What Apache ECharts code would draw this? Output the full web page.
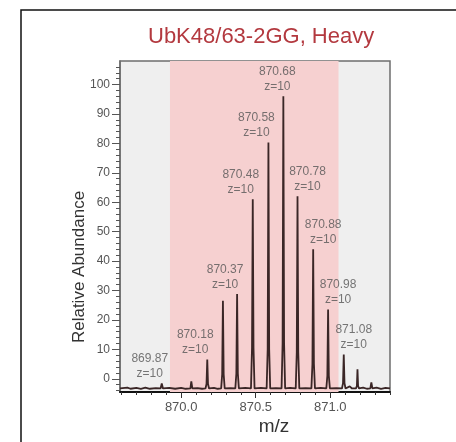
<!DOCTYPE html>
<html>
<head>
<meta charset="utf-8">
<script src="https://cdn.jsdelivr.net/npm/echarts@6/dist/echarts.min.js"></script>
<style>
  html, body { margin: 0; padding: 0; background: #ffffff; overflow: hidden; }
  #chart { width: 456px; height: 442px; }
</style>
</head>
<body>
<div id="chart"></div>
<script>
// ---- data ----
const titleText = 'UbK48/63-2GG, Heavy';
const xName = 'm/z';
const yName = 'Relative Abundance';

// profile spectrum: m/z and relative abundance
const mzValues = [
  869.59, 869.64, 869.66, 869.70, 869.73, 869.76, 869.79, 869.83,
  869.862, 869.87, 869.878,
  869.92, 869.96, 870.00, 870.03,
  870.062, 870.068, 870.075,
  870.11, 870.14,
  870.163, 870.170, 870.175, 870.180, 870.187,
  870.22, 870.245,
  870.268, 870.275, 870.280, 870.285, 870.292,
  870.33,
  870.363, 870.370, 870.375, 870.380, 870.387,
  870.43,
  870.468, 870.475, 870.480, 870.485, 870.492,
  870.535,
  870.573, 870.580, 870.585, 870.590, 870.597,
  870.635,
  870.673, 870.680, 870.685, 870.690, 870.697,
  870.73,
  870.768, 870.775, 870.780, 870.785, 870.792,
  870.835,
  870.873, 870.880, 870.885, 870.890, 870.897,
  870.935,
  870.973, 870.980, 870.985, 870.990, 870.997,
  871.04,
  871.078, 871.085, 871.090, 871.095, 871.102,
  871.13, 871.145,
  871.172, 871.178, 871.182, 871.186, 871.192,
  871.22, 871.245,
  871.268, 871.275, 871.282,
  871.31, 871.34, 871.37, 871.40
];
const intensityValues = [
  -3.3, -3.0, -3.4, -3.1, -3.4, -3.0, -3.4, -3.2,
  -3.3, -1.6, -3.3,
  -3.1, -3.4, -3.1, -3.4,
  -3.3, -0.9, -3.3,
  -3.2, -3.4,
  -3.3, -1.8, 6.5, -1.8, -3.3,
  -3.1, -3.4,
  -3.3, 1.5, 26.5, 1.5, -3.3,
  -3.2,
  -3.3, 1.8, 28.8, 1.8, -3.3,
  -3.1,
  -3.3, 10.5, 61, 10.5, -3.3,
  -3.1,
  -3.3, 10, 80.3, 10, -3.3,
  -3.2,
  -3.3, 12, 96, 12, -3.3,
  -3.1,
  -3.3, 9, 62, 9, -3.3,
  -3.2,
  -3.3, 5, 44, 5, -3.3,
  -3.1,
  -3.3, 1, 23.5, 1, -3.3,
  -3.2,
  -3.3, -1.5, 8.2, -1.5, -3.3,
  -2.6, -3.3,
  -3.3, -2.4, 3.2, -2.4, -3.3,
  -3.0, -3.4,
  -3.3, -1.2, -3.3,
  -3.0, -3.4, -3.1, -3.3
];

// peak annotations
const annotMz   = [869.87, 870.175, 870.375, 870.48, 870.585, 870.685, 870.78, 870.885, 870.985, 871.09];
const annotTop  = [-1.6, 6.5, 28.8, 61, 80.3, 96, 62, 44, 23.5, 8.2];
const annotText = ['869.87', '870.18', '870.37', '870.48', '870.58', '870.68', '870.78', '870.88', '870.98', '871.08'];
const annotCharge = ['z=10', 'z=10', 'z=10', 'z=10', 'z=10', 'z=10', 'z=10', 'z=10', 'z=10', 'z=10'];

// highlighted isolation window
const windowStart = 869.925;
const windowEnd = 871.055;

// axes
const xMin = 869.59, xMax = 871.40;
const yMin = -4.5, yMax = 108;
const xMajorTicks = [870.0, 870.5, 871.0];
const xMinorTicks = [869.6, 869.7, 869.8, 869.9, 870.0, 870.1, 870.2, 870.3, 870.4, 870.5,
                     870.6, 870.7, 870.8, 870.9, 871.0, 871.1, 871.2, 871.3, 871.4];
const yMajorTicks = [0, 10, 20, 30, 40, 50, 60, 70, 80, 90, 100];
const yMinorTicks = [-4, -2, 0, 2, 4, 6, 8, 10, 12, 14, 16, 18, 20, 22, 24, 26, 28, 30, 32, 34, 36, 38,
                     40, 42, 44, 46, 48, 50, 52, 54, 56, 58, 60, 62, 64, 66, 68, 70, 72, 74, 76, 78,
                     80, 82, 84, 86, 88, 90, 92, 94, 96, 98, 100, 102, 104, 106];

// ---- chart ----
const FONT = 'Liberation Sans, Arial, sans-serif';
const chart = echarts.init(document.getElementById('chart'), null, { renderer: 'canvas' });

const spectrum = mzValues.map((m, i) => [m, intensityValues[i]]);
const annotations = annotMz.map((m, i) => {
  let dx = 10;
  if (m < 870.63) dx = -12;
  else if (m < 870.73) dx = -6;
  return {
    name: annotText[i] + '\n' + annotCharge[i],
    value: [m, annotTop[i]],
    label: { offset: [dx, 0] }
  };
});

const option = {
  animation: false,
  backgroundColor: '#ffffff',
  title: {
    text: titleText,
    left: 148,
    top: 26,
    padding: 0,
    textStyle: { color: '#b3393f', fontSize: 22, fontWeight: 'normal', fontFamily: FONT }
  },
  grid: {
    left: 120, top: 61, width: 270, height: 331,
    show: true,
    backgroundColor: '#efefef',
    borderColor: '#6e6e6e',
    borderWidth: 1.5,
    containLabel: false
  },
  xAxis: [
    {
      type: 'value', min: xMin, max: xMax, position: 'bottom',
      axisLine: { show: true, onZero: false, lineStyle: { color: '#111', width: 2 } },
      axisTick: { show: true, customValues: xMajorTicks, length: 6, inside: false,
                  lineStyle: { color: '#333', width: 1 } },
      axisLabel: { show: true, customValues: xMajorTicks, formatter: v => Number(v).toFixed(1),
                   color: '#555', fontSize: 13, fontFamily: FONT, margin: 9 },
      splitLine: { show: false }
    },
    {
      type: 'value', min: xMin, max: xMax, position: 'bottom', offset: 0,
      axisLine: { show: false, onZero: false },
      axisTick: { show: true, customValues: xMinorTicks, length: 3, inside: false,
                  lineStyle: { color: '#333', width: 1 } },
      axisLabel: { show: false },
      splitLine: { show: false }
    }
  ],
  yAxis: [
    {
      type: 'value', min: yMin, max: yMax, position: 'left',
      axisLine: { show: true, onZero: false, lineStyle: { color: '#6e6e6e', width: 1.5 } },
      axisTick: { show: true, customValues: yMajorTicks, length: 8, inside: false,
                  lineStyle: { color: '#555', width: 1 } },
      axisLabel: { show: true, customValues: yMajorTicks, color: '#555', fontSize: 12,
                   fontFamily: FONT, margin: 10 },
      splitLine: { show: false }
    },
    {
      type: 'value', min: yMin, max: yMax, position: 'left', offset: 0,
      axisLine: { show: false, onZero: false },
      axisTick: { show: true, customValues: yMinorTicks, length: 4, inside: false,
                  lineStyle: { color: '#555', width: 1 } },
      axisLabel: { show: false },
      splitLine: { show: false }
    }
  ],
  graphic: [
    {
      type: 'polyline', silent: true, z: 100,
      shape: { points: [[21, 442], [21, 10], [456, 10]] },
      style: { fill: 'none', stroke: '#111', lineWidth: 1.5 }
    },
    {
      type: 'text', silent: true,
      x: 79, y: 267, rotation: Math.PI / 2,
      style: { text: yName, fill: '#333', font: '17px ' + FONT, align: 'center', verticalAlign: 'middle' }
    },
    {
      type: 'text', silent: true,
      x: 274, y: 427,
      style: { text: xName, fill: '#333', font: '19px ' + FONT, align: 'center', verticalAlign: 'middle' }
    }
  ],
  series: [
    {
      type: 'line',
      xAxisIndex: 0, yAxisIndex: 0,
      data: [],
      silent: true,
      z: 1,
      markArea: {
        silent: true,
        itemStyle: { color: '#f6d0d0' },
        data: [[{ xAxis: windowStart }, { xAxis: windowEnd }]]
      }
    },
    {
      type: 'line',
      xAxisIndex: 0, yAxisIndex: 0,
      data: spectrum,
      showSymbol: false,
      symbol: 'none',
      silent: true,
      z: 3,
      lineStyle: { color: '#3a2626', width: 1.8 }
    },
    {
      type: 'scatter',
      xAxisIndex: 0, yAxisIndex: 0,
      data: annotations,
      symbolSize: 0,
      silent: true,
      z: 4,
      label: {
        show: true,
        position: 'top',
        distance: 2,
        formatter: '{b}',
        color: '#555',
        fontSize: 12,
        lineHeight: 15,
        fontFamily: FONT,
        align: 'center'
      }
    }
  ]
};
chart.setOption(option);
</script>
</body>
</html>
